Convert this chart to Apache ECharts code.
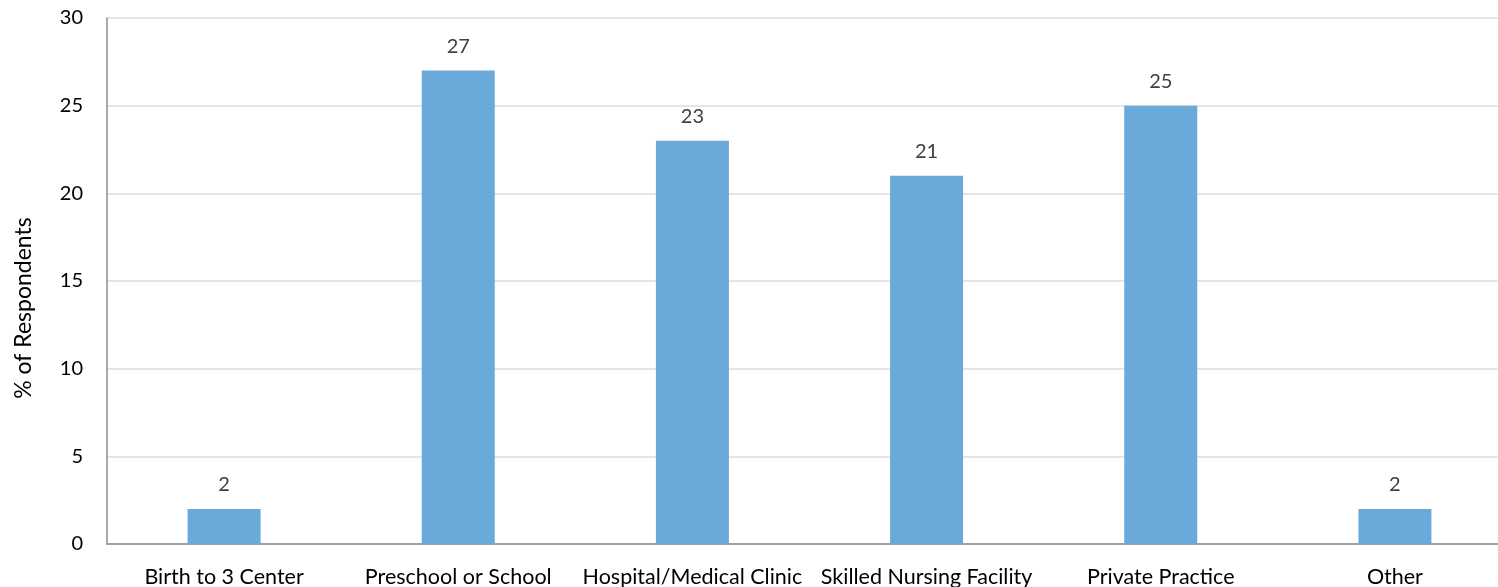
<!DOCTYPE html>
<html>
<head>
    <meta charset="utf-8">
    <title>Respondents</title>
    <script src="https://cdn.jsdelivr.net/npm/echarts@6/dist/echarts.min.js"></script>
    <style>
        html, body { margin: 0; padding: 0; background: #fff; }
    </style>
</head>
<body>
    <div id="main" style="width:1498px; height:587px;"></div>

    <script type="text/javascript">
        const categories = ['Birth to 3 Center', 'Preschool or School', 'Hospital/Medical Clinic',
                            'Skilled Nursing Facility', 'Private Practice', 'Other'];
        const respondents = [2, 27, 23, 21, 25, 2];
        const yTicks = { min: 0, max: 30, interval: 5 };

        const font = 'Lato';
        var myChart = echarts.init(document.getElementById('main'));

        myChart.setOption({
            animation: false,
            grid: { left: 107, width: 1405, top: 18, bottom: 43, outerBoundsMode: 'none' },
            xAxis: {
                type: 'category',
                data: categories,
                axisLine: { lineStyle: { color: '#8c8c8c', width: 1.5 } },
                axisTick: { show: false },
                axisLabel: {
                    interval: 0,
                    margin: 22,
                    color: '#000',
                    fontFamily: font,
                    fontSize: 21.5
                }
            },
            yAxis: {
                type: 'value',
                min: yTicks.min,
                max: yTicks.max,
                interval: yTicks.interval,
                name: '% of Respondents',
                nameLocation: 'middle',
                nameGap: 72,
                // shift the rotated title a bit below the middle, like the original
                nameTextStyle: { color: '#000', fontFamily: font, fontSize: 23, padding: [0, 54, 0, 0] },
                axisLine: { show: true, lineStyle: { color: '#8c8c8c', width: 1.5 } },
                axisTick: { show: false },
                splitLine: { lineStyle: { color: '#dcdcdc', width: 1.5 } },
                axisLabel: {
                    margin: 24,
                    color: '#000',
                    fontFamily: font,
                    fontSize: 20
                }
            },
            series: [
                {
                    type: 'bar',
                    data: respondents,
                    barWidth: 73,
                    itemStyle: { color: '#6aaadb' },
                    label: {
                        show: true,
                        position: 'top',
                        distance: 14,
                        color: '#404040',
                        fontFamily: font,
                        fontSize: 20
                    }
                }
            ]
        });
    </script>
</body>
</html>
